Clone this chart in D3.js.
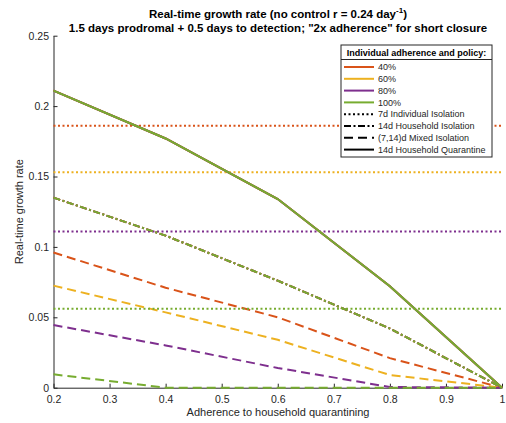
<!DOCTYPE html>
<html>
<head>
<meta charset="utf-8">
<script src="https://cdn.jsdelivr.net/npm/d3@7"></script>
<style>
  body { margin: 0; background: #fff; }
  svg { font-family: "Liberation Sans", Arial, Helvetica, sans-serif; }
</style>
</head>
<body>
<svg id="chart" width="506" height="423"></svg>
<script>
// household adherence values (x)
var adherence = [0.2, 0.4, 0.6, 0.8, 1.0];
var xTicks = [0.2, 0.3, 0.4, 0.5, 0.6, 0.7, 0.8, 0.9, 1];
var yTicks = [0, 0.05, 0.1, 0.15, 0.2, 0.25];

var levels = ["40%", "60%", "80%", "100%"];
var levelColors = ["#D95319", "#EDB120", "#7E2F8E", "#77AC30"];

// 7d individual isolation: flat in household adherence
var isolation7d = [0.186, 0.153, 0.111, 0.056];

// 14d household isolation
var householdIsolation14d = [
  [0.135, 0.108, 0.076, 0.042, 0],
  [0.135, 0.108, 0.076, 0.042, 0],
  [0.135, 0.108, 0.076, 0.042, 0],
  [0.135, 0.108, 0.076, 0.042, 0]
];

// (7,14)d mixed isolation
var mixedIsolation = [
  [0.096, 0.071, 0.050, 0.021, 0],
  [0.0725, 0.0535, 0.034, 0.009, 0],
  [0.0445, 0.030, 0.014, 0.0005, 0],
  [0.0095, 0, 0, 0, 0]
];

// 14d household quarantine
var householdQuarantine14d = [
  [0.211, 0.177, 0.134, 0.072, 0],
  [0.211, 0.177, 0.134, 0.072, 0],
  [0.211, 0.177, 0.134, 0.072, 0],
  [0.211, 0.177, 0.134, 0.072, 0]
];

var policies = [
  { name: "7d Individual Isolation", dash: "2,2.5" },
  { name: "14d Household Isolation", dash: "7,2.5,2,2.5" },
  { name: "(7,14)d Mixed Isolation", dash: "9,5" },
  { name: "14d Household Quarantine", dash: null }
];

var axisColor = "#262626";
var svg = d3.select("#chart");

var x = d3.scaleLinear().domain([0.2, 1]).range([53.5, 502]);
var y = d3.scaleLinear().domain([0, 0.25]).range([387.7, 35.7]);

// axes
var xAxis = svg
  .append("g")
  .attr("transform", "translate(0," + y(0) + ")")
  .call(
    d3.axisBottom(x)
      .tickValues(xTicks)
      .tickSizeInner(-4)
      .tickSizeOuter(0)
      .tickPadding(8)
      .tickFormat(d3.format("~g"))
  );
var yAxis = svg
  .append("g")
  .attr("transform", "translate(" + x(0.2) + ",0)")
  .call(
    d3.axisLeft(y)
      .tickValues(yTicks)
      .tickSizeInner(-4)
      .tickSizeOuter(0)
      .tickPadding(4.5)
      .tickFormat(d3.format("~g"))
  );
[xAxis, yAxis].forEach(function(g) {
  g.selectAll("path, line").attr("stroke", axisColor);
  g.selectAll("text")
    .attr("fill", axisColor)
    .style("font-size", "10.5px")
    .style("font-family", "'Liberation Sans', Arial, sans-serif");
});

var line = d3
  .line()
  .x(function(d, i) { return x(adherence[i]); })
  .y(function(d) { return y(d); });

// plot lines, color by color so 100% ends on top
levels.forEach(function(level, k) {
  var c = levelColors[k];
  svg.append("line")
    .attr("x1", x(0.2)).attr("x2", x(1))
    .attr("y1", y(isolation7d[k])).attr("y2", y(isolation7d[k]))
    .attr("stroke", c).attr("stroke-width", 2)
    .attr("stroke-dasharray", policies[0].dash);
  svg.append("path")
    .datum(householdIsolation14d[k])
    .attr("d", line)
    .attr("fill", "none").attr("stroke", c).attr("stroke-width", 2)
    .attr("stroke-dasharray", policies[1].dash);
  svg.append("path")
    .datum(mixedIsolation[k])
    .attr("d", line)
    .attr("fill", "none").attr("stroke", c).attr("stroke-width", 2)
    .attr("stroke-dasharray", policies[2].dash);
  svg.append("path")
    .datum(householdQuarantine14d[k])
    .attr("d", line)
    .attr("fill", "none").attr("stroke", c).attr("stroke-width", 2);
});

// titles
var title = svg.append("text")
  .attr("x", 278).attr("y", 18)
  .attr("text-anchor", "middle")
  .style("font-size", "11.5px").style("font-weight", "bold")
  .attr("fill", "#000");
title.append("tspan").text("Real-time growth rate (no control r = 0.24 day");
title.append("tspan").attr("dy", -5).style("font-size", "8px").text("-1");
title.append("tspan").attr("dy", 5).text(")");

svg.append("text")
  .attr("x", 278).attr("y", 32)
  .attr("text-anchor", "middle")
  .style("font-size", "11.5px").style("font-weight", "bold")
  .text('1.5 days prodromal + 0.5 days to detection; "2x adherence" for short closure');

svg.append("text")
  .attr("x", 278).attr("y", 416)
  .attr("text-anchor", "middle")
  .style("font-size", "11px")
  .attr("fill", axisColor)
  .text("Adherence to household quarantining");

svg.append("text")
  .attr("transform", "translate(23," + (y(0.125)) + ") rotate(-90)")
  .attr("text-anchor", "middle")
  .style("font-size", "11px")
  .attr("fill", axisColor)
  .text("Real-time growth rate");

// legend
var lg = svg.append("g");
lg.append("rect")
  .attr("x", 341).attr("y", 45).attr("width", 151).attr("height", 112)
  .attr("fill", "#fff").attr("stroke", axisColor).attr("stroke-width", 1);
lg.append("line")
  .attr("x1", 341).attr("x2", 492).attr("y1", 59.5).attr("y2", 59.5)
  .attr("stroke", axisColor);
lg.append("text")
  .attr("x", 416.5).attr("y", 55.5)
  .attr("text-anchor", "middle")
  .style("font-size", "9px").style("font-weight", "bold")
  .text("Individual adherence and policy:");

var entries = [];
levels.forEach(function(l, k) {
  entries.push({ name: l, color: levelColors[k], dash: null });
});
policies.forEach(function(p) {
  entries.push({ name: p.name, color: "#000", dash: p.dash });
});
entries.forEach(function(e, i) {
  var yy = 67 + i * 11.8;
  lg.append("line")
    .attr("x1", 344).attr("x2", 374).attr("y1", yy).attr("y2", yy)
    .attr("stroke", e.color).attr("stroke-width", 2)
    .attr("stroke-dasharray", e.dash);
  lg.append("text")
    .attr("x", 378).attr("y", yy + 3.2)
    .style("font-size", "9px")
    .attr("fill", axisColor)
    .text(e.name);
});
</script>
</body>
</html>
